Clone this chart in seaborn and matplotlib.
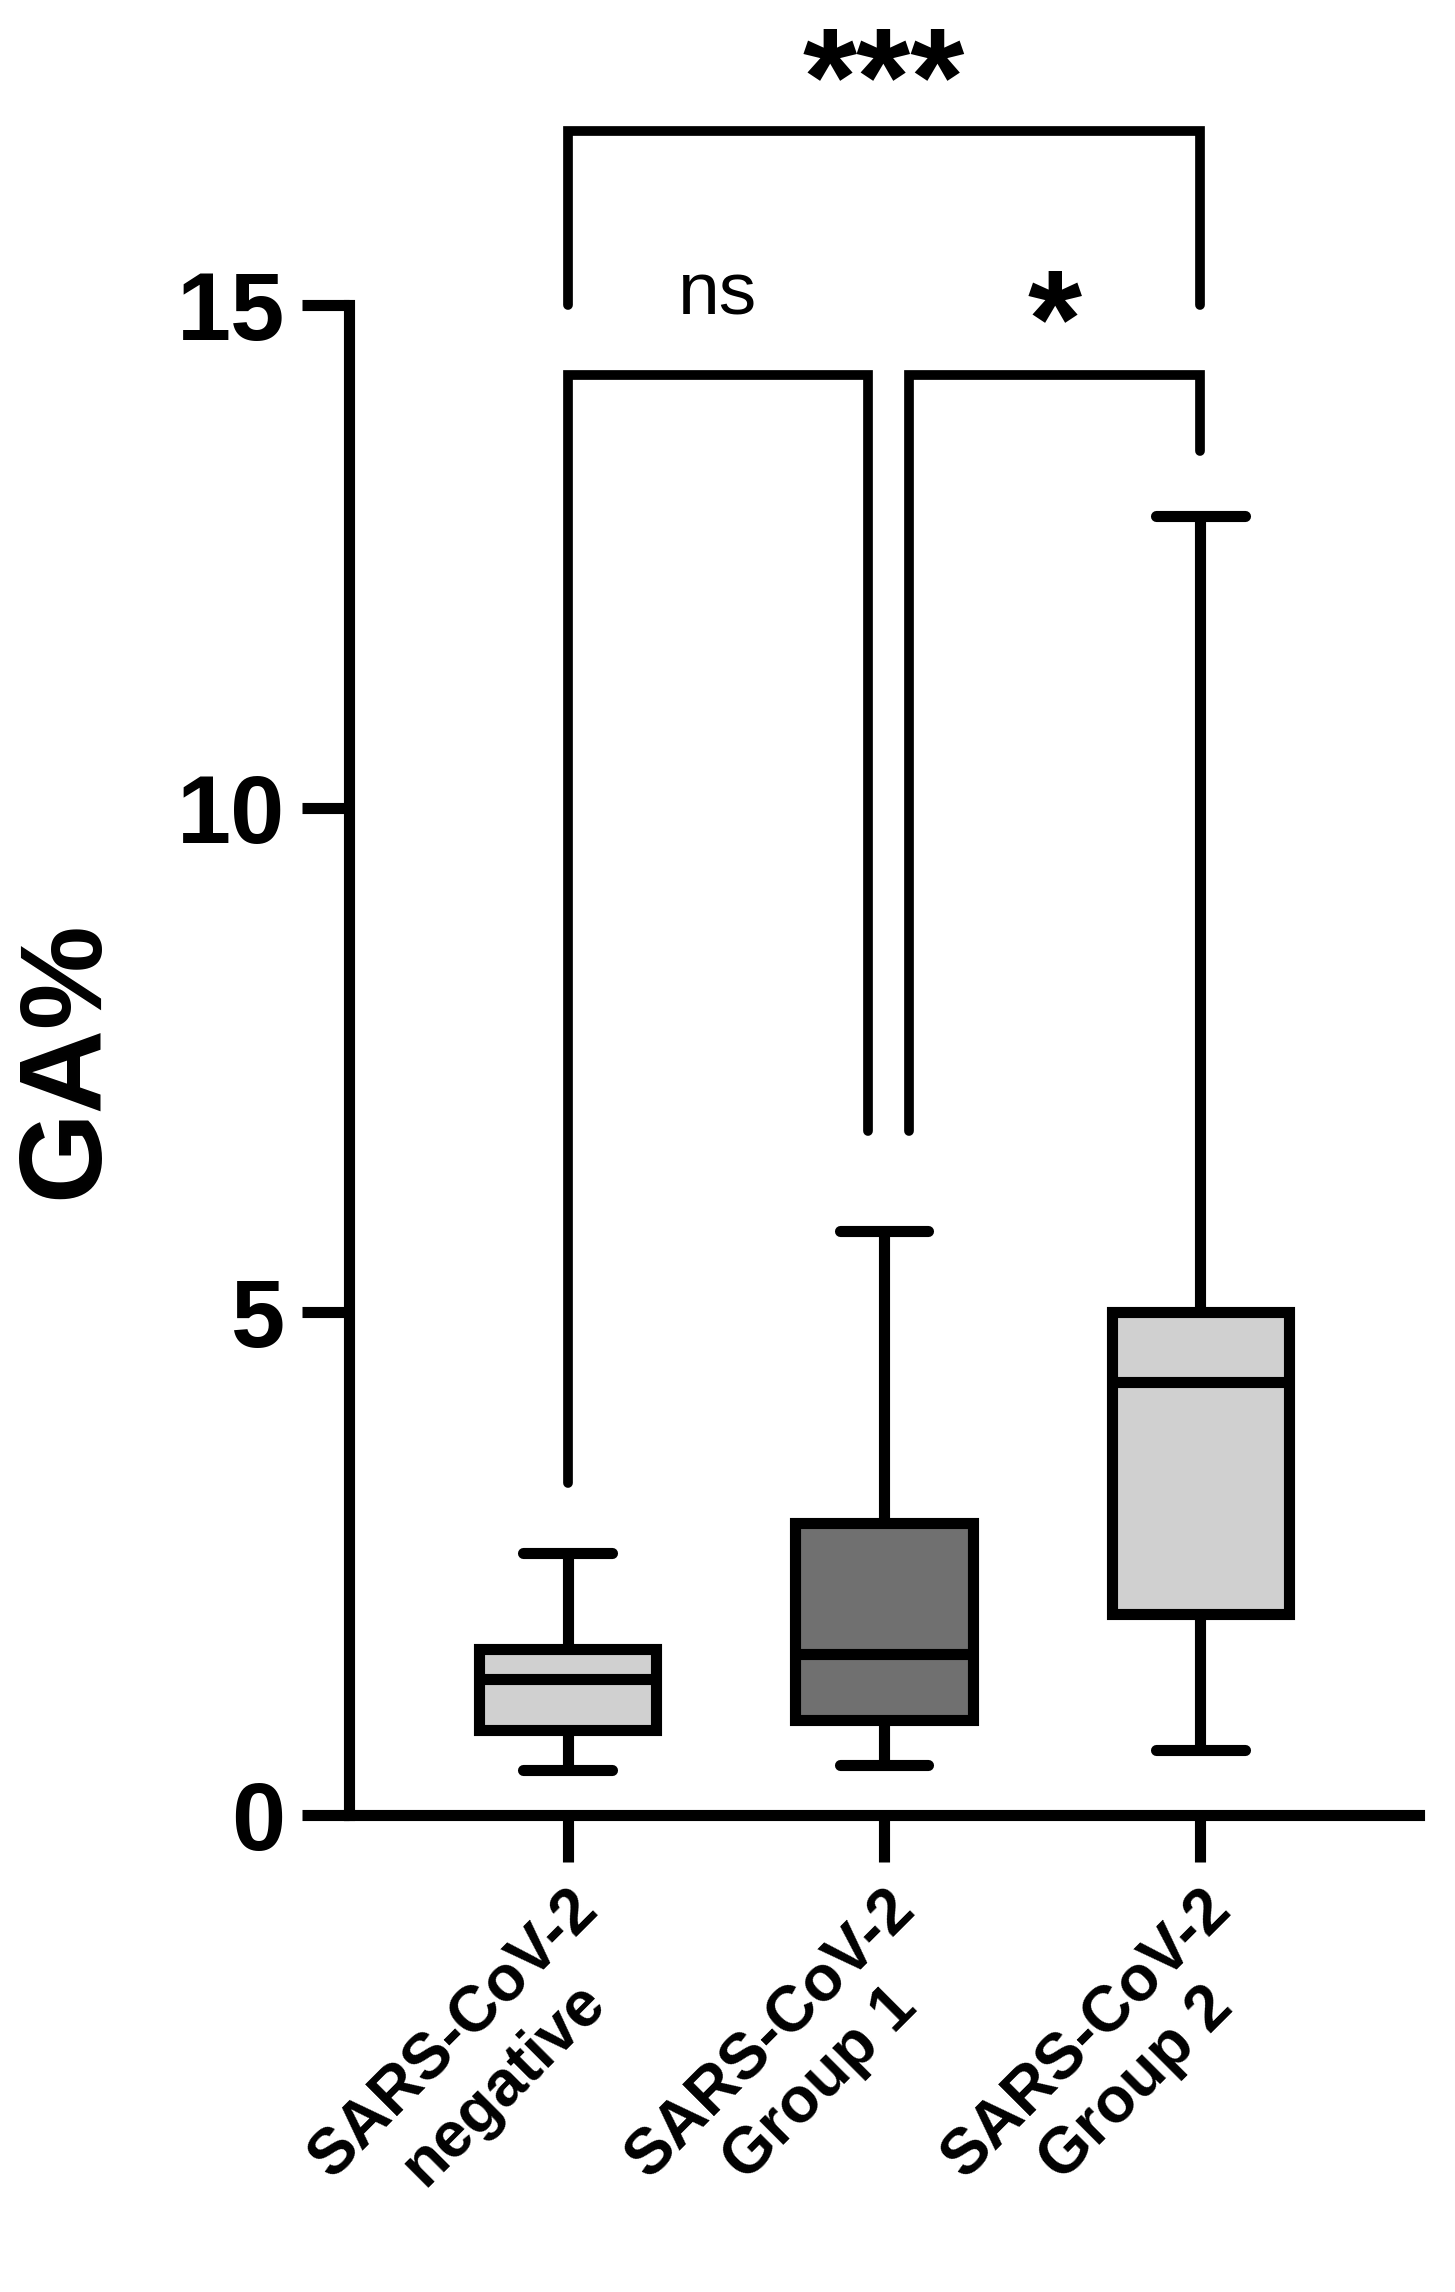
import matplotlib
matplotlib.use("Agg")
import matplotlib.pyplot as plt
import seaborn as sns
import pandas as pd

groups = ["SARS-CoV-2\nnegative", "SARS-CoV-2\nGroup 1", "SARS-CoV-2\nGroup 2"]
# five-number summaries: min, q1, median, q3, max
stats_neg = [0.45, 0.85, 1.35, 1.65, 2.6]
stats_g1 = [0.5, 0.95, 1.6, 2.9, 5.8]
stats_g2 = [0.65, 2.0, 4.3, 5.0, 12.9]
box_colors = ["#d0d0d0", "#707070", "#d0d0d0"]
yticks = [0, 5, 10, 15]

rows = []
for g, s in zip(groups, [stats_neg, stats_g1, stats_g2]):
    for v in s:
        rows.append({"group": g, "GA": v})
df = pd.DataFrame(rows)

sns.set_style("ticks")
plt.rcParams["font.family"] = ["Liberation Sans", "DejaVu Sans"]
plt.rcParams["font.weight"] = "bold"
plt.rcParams["text.color"] = "black"
plt.rcParams["axes.edgecolor"] = "black"
plt.rcParams["xtick.color"] = "black"
plt.rcParams["ytick.color"] = "black"
plt.rcParams["axes.labelcolor"] = "black"

fig = plt.figure(figsize=(14.55, 22.92), dpi=100)
ax = fig.add_axes([0.24, 0.208, 0.735, 0.659])
lw = 8
sns.boxplot(data=df, x="group", y="GA", hue="group", palette=box_colors, legend=False,
            whis=(0, 100), width=0.56, linewidth=lw, linecolor="black",
            showcaps=True, ax=ax,
            capprops=dict(linewidth=lw), whiskerprops=dict(linewidth=lw),
            medianprops=dict(linewidth=lw, color="black"))
ax.set_xlim(-0.69, 2.69)
ax.set_ylim(0, 15)
ax.set_yticks(yticks)
ax.set_yticklabels([str(t) for t in yticks], fontsize=70, fontweight="bold")
ax.set_xlabel("")
ax.set_ylabel("GA%", fontsize=84, fontweight="bold", labelpad=40)
ax.tick_params(axis="both", width=lw, length=34, pad=12, colors="black")
ax.tick_params(axis="x", labelsize=46)
for lab in ax.get_xticklabels():
    lab.set_rotation(45)
    lab.set_ha("right")
    lab.set_rotation_mode("anchor")
    lab.set_fontweight("bold")
    lab.set_multialignment("center")
sns.despine(ax=ax)
for sp in ["left", "bottom"]:
    ax.spines[sp].set_linewidth(lw)
    ax.spines[sp].set_color("black")

blw = 7
def bracket(x1, x2, ytop, yl, yr, text, ty, fs, fw):
    ax.plot([x1, x1, x2, x2], [yl, ytop, ytop, yr], color="black", lw=blw,
            clip_on=False, solid_joinstyle="miter")
    ax.text((x1 + x2) / 2, ty, text, ha="center", va="center", fontsize=fs,
            fontweight=fw)

bracket(0, 0.95, 14.3, 3.3, 6.8, "ns", 15.1, 54, "normal")
bracket(1.08, 2.0, 14.3, 6.8, 13.55, "*", 14.75, 100, "bold")
bracket(0, 2.0, 16.73, 15.0, 15.0, "***", 17.15, 100, "bold")

fig.savefig("out.png", dpi=100)
